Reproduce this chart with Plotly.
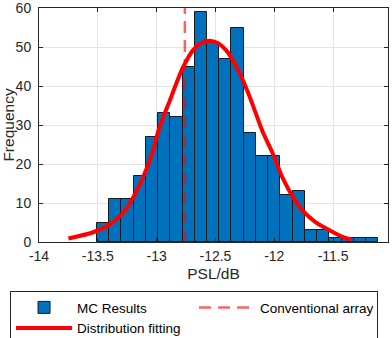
import plotly.graph_objects as go

# ---- data ----
bin_start = -13.508
bin_width = 0.104
counts = [5, 11, 11, 17, 27, 33, 32, 45, 59, 51, 47, 55, 28, 22, 22, 12, 13, 3, 3, 1, 1, 1, 1]

fit_x = [-13.75, -13.54, -13.40, -13.28, -13.20, -13.11, -13.04, -12.98, -12.89, -12.78,
         -12.69, -12.62, -12.55, -12.48, -12.41, -12.30, -12.21, -12.10, -12.01, -11.93,
         -11.83, -11.76, -11.65, -11.53, -11.42, -11.34]
fit_y = [0.9, 2.5, 4.5, 7.6, 11.4, 17.0, 22.5, 29.0, 36.1, 44.5,
         49.2, 51.0, 51.6, 51.0, 49.2, 43.7, 37.3, 28.4, 22.5, 16.5,
         11.0, 8.1, 5.1, 3.0, 1.3, 0.6]

conv_x = -12.76
y_limits = [0, 60]
x_ticks = [-14, -13.5, -13, -12.5, -12, -11.5]
x_tick_text = ["-14", "-13.5", "-13", "-12.5", "-12", "-11.5"]
y_ticks = [0, 10, 20, 30, 40, 50, 60]

centers = [bin_start + bin_width * (i + 0.5) for i in range(len(counts))]

FONT = "Liberation Sans, Arial, Helvetica, sans-serif"

fig = go.Figure()
fig.add_trace(go.Bar(
    x=centers, y=counts, width=bin_width,
    marker=dict(color="#0072BD", line=dict(color="#1a1a1a", width=1)),
    name="MC Results",
))
fig.add_trace(go.Scatter(
    x=[conv_x, conv_x], y=y_limits, mode="lines",
    line=dict(color="rgba(255,0,0,0.62)", width=2.5, dash="12px,7px"),
    name="Conventional array",
))
fig.add_trace(go.Scatter(
    x=fit_x, y=fit_y, mode="lines",
    line=dict(color="#FF0000", width=4, shape="spline", smoothing=0.8),
    name="Distribution fitting",
))

axis_common = dict(
    showgrid=True, gridcolor="#e3e3e3", gridwidth=1,
    showline=True, linecolor="#262626", linewidth=1, mirror="ticks",
    ticks="inside", ticklen=4, tickcolor="#262626",
    tickfont=dict(family=FONT, size=14, color="#262626"),
    zeroline=False, automargin=False, ticklabeloverflow="allow",
)

fig.update_layout(
    width=392, height=338,
    margin=dict(l=39, r=4, t=8, b=96, autoexpand=False),
    paper_bgcolor="white", plot_bgcolor="white",
    bargap=0,
    font=dict(family=FONT, color="#262626"),
    xaxis=dict(
        range=[-14, -11.033], tickvals=x_ticks, ticktext=x_tick_text,
        title=dict(text="PSL/dB", font=dict(family=FONT, size=15.5, color="#262626"), standoff=5),
        ticklabelstandoff=1,
        **axis_common,
    ),
    yaxis=dict(
        range=y_limits, tickvals=y_ticks,
        title=dict(text="Frequency", font=dict(family=FONT, size=15.5, color="#262626"), standoff=3),
        ticklabelstandoff=4,
        **axis_common,
    ),
    legend=dict(
        orientation="h",
        x=-0.083, y=-0.210, xanchor="left", yanchor="top",
        bordercolor="#262626", borderwidth=1, bgcolor="white",
        font=dict(family=FONT, size=13.5, color="#000000"),
        entrywidth=112, itemwidth=56, traceorder="normal",
    ),
    showlegend=True,
)

fig.write_html("out.html", config={"displayModeBar": False},
               post_script="document.body.style.margin='0';document.body.style.padding='0';")
